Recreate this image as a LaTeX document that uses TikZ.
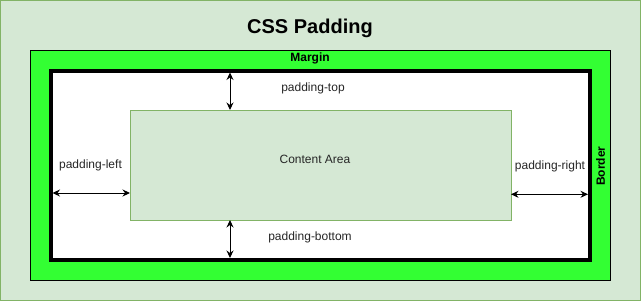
\documentclass[tikz,border=0pt]{standalone}
\usepackage{fontspec}
\setmainfont{Liberation Sans}
\usetikzlibrary{arrows.meta,positioning}
\definecolor{bgfill}{HTML}{D5E8D4}
\definecolor{bgline}{HTML}{82B366}
\definecolor{margingreen}{HTML}{33FF33}

\begin{document}
\begin{tikzpicture}[x=1pt,y=-1pt,>={Stealth[length=7.5pt,width=7pt,inset=2.5pt]},font=\fontsize{12}{14}\selectfont]
 \tikzstyle{marginbox}=[rectangle,draw=black,fill=margingreen,line width=0.8pt,minimum width=580pt,minimum height=230pt,inner sep=0pt,outer sep=0pt]
 \tikzstyle{borderbox}=[rectangle,draw=black,fill=white,line width=4pt,minimum width=539.5pt,minimum height=189.5pt,inner sep=0pt,outer sep=0pt]
 \tikzstyle{contentbox}=[rectangle,draw=bgline,fill=bgfill,line width=0.8pt,minimum width=381pt,minimum height=110pt,inner sep=0pt,outer sep=0pt]
 \tikzstyle{lbl}=[inner sep=1pt,text=black!85]
 \tikzstyle{boldlbl}=[inner sep=1pt,font=\fontsize{12}{14}\selectfont\bfseries]
 \tikzstyle{gap}=[<->,line width=1pt,shorten <=2pt]
 \useasboundingbox (0,0) rectangle (641,301);
 \draw[draw=bgline,fill=bgfill,line width=1pt] (0.5,0.5) rectangle (640.5,300.5);
 \node[font=\fontsize{20}{24}\selectfont\bfseries] (title) at (310,28) {CSS Padding};
 \node[marginbox] (margin) at (320,165) {};
 \node[borderbox] (border) at (320.25,165.25) {};
 \node[contentbox] (content) at (320.5,165) {};
 \node[lbl] (contentlbl) at (315,159) {Content Area};
 \node[boldlbl] (marginlbl) at (310,58) {Margin};
 \node[boldlbl,rotate=90] (borderlbl) at (600.5,166) {Border};
 % gap arrows
 \coordinate (topx) at (230,0);
 \coordinate (lefty) at (0,193);
 \coordinate (righty) at (0,194.3);
 \draw[gap] (border.north -| topx) -- (content.north -| topx);
 \draw[gap] (border.south -| topx) -- (content.south -| topx);
 \draw[gap] (border.west |- lefty) -- (content.west |- lefty);
 \draw[gap] (border.east |- righty) -- (content.east |- righty);
 \node[lbl] (toplbl) at (313,88) {padding-top};
 \node[lbl] (bottomlbl) at (310,237) {padding-bottom};
 \node[lbl] (leftlbl) at (90.5,165) {padding-left};
 \node[lbl] (rightlbl) at (550,166) {padding-right};
\end{tikzpicture}
\end{document}
